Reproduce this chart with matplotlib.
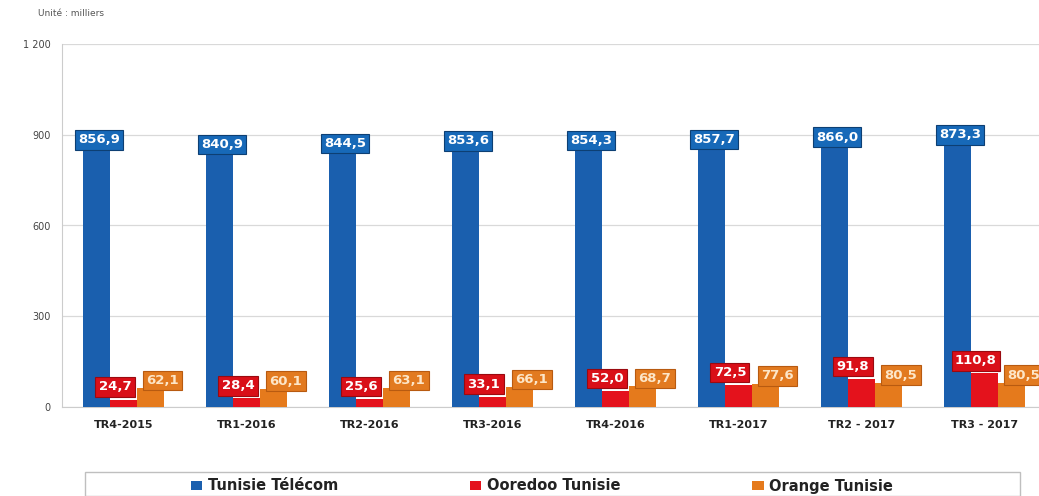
import matplotlib
matplotlib.use("Agg")
import matplotlib.pyplot as plt
import numpy as np
from matplotlib.patches import Rectangle

categories = ["TR4-2015", "TR1-2016", "TR2-2016", "TR3-2016", "TR4-2016",
              "TR1-2017", "TR2 - 2017", "TR3 - 2017"]
tunisie_telecom = [856.9, 840.9, 844.5, 853.6, 854.3, 857.7, 866.0, 873.3]
ooredoo = [24.7, 28.4, 25.6, 33.1, 52.0, 72.5, 91.8, 110.8]
orange = [62.1, 60.1, 63.1, 66.1, 68.7, 77.6, 80.5, 80.5]
series_names = ["Tunisie Télécom", "Ooredoo Tunisie", "Orange Tunisie"]
yticks = [0, 300, 600, 900, 1200]
ytick_labels = ["0", "300", "600", "900", "1 200"]

c_blue = "#1a5fae"
c_red = "#e4121c"
c_orange = "#e57a1c"
c_blue_lbl = "#1769b8"
c_red_lbl = "#d90f18"
c_orange_lbl = "#e27a20"

W, H = 1039, 496
fig = plt.figure(figsize=(W / 100, H / 100), dpi=100)
ax = fig.add_axes([62 / W, 89 / H, 984 / W, 363 / H])

x = np.arange(len(categories))
bw = 0.215
off = 0.22
ax.bar(x - off, tunisie_telecom, bw, color=c_blue, zorder=3, label=series_names[0])
ax.bar(x, ooredoo, bw, color=c_red, zorder=3, label=series_names[1])
ax.bar(x + off, orange, bw, color=c_orange, zorder=3, label=series_names[2])

def fmt(v):
    return f"{v:.1f}".replace(".", ",")

for i in range(len(categories)):
    ax.text(x[i] - off + 0.02, tunisie_telecom[i] + 5, fmt(tunisie_telecom[i]),
            ha="center", va="bottom", color="white", fontsize=9.5, fontweight="bold",
            zorder=5,
            bbox=dict(boxstyle="square,pad=0.25", fc=c_blue_lbl, ec="#0d3f73", lw=0.8))
    ax.text(x[i] - 0.07, ooredoo[i] + 42, fmt(ooredoo[i]),
            ha="center", va="center", color="white", fontsize=9.5, fontweight="bold",
            zorder=5,
            bbox=dict(boxstyle="square,pad=0.25", fc=c_red_lbl, ec="#9a0a10", lw=0.8))
    ax.text(x[i] + off + 0.1, orange[i] + 25, fmt(orange[i]),
            ha="center", va="center", color="#fde6c8", fontsize=9.5, fontweight="bold",
            zorder=6,
            bbox=dict(boxstyle="square,pad=0.25", fc=c_orange_lbl, ec="#b85a10", lw=0.8))

ax.set_xlim(-0.5, len(categories) - 0.5)
ax.set_ylim(0, 1200)
ax.set_yticks(yticks)
ax.set_yticklabels(ytick_labels, fontsize=7, color="#444444")
ax.set_xticks(x)
ax.set_xticklabels(categories, fontsize=8, fontweight="bold", color="#222222")
ax.tick_params(axis="both", length=0, pad=8)
ax.tick_params(axis="x", pad=9)
ax.grid(axis="y", color="#d9d9d9", lw=0.9, zorder=0)
for s in ["top", "right"]:
    ax.spines[s].set_visible(False)
ax.spines["left"].set_color("#cccccc")
ax.spines["bottom"].set_color("#cccccc")

fig.text(38 / W, 1 - 14 / H, "Unité : milliers", fontsize=6.5, color="#555555",
         va="center", ha="left")

leg = fig.legend(loc="center", bbox_to_anchor=(542 / W, 1 - 486 / H), ncol=3,
                 frameon=False, prop=dict(size=10.5, weight="bold"),
                 handlelength=0.8, handleheight=0.6, handletextpad=0.4,
                 columnspacing=9.0)
for t in leg.get_texts():
    t.set_color("#222222")
fig.patches.append(Rectangle((85 / W, 0.0), 935 / W, 24 / H, transform=fig.transFigure,
                             fill=False, ec="#bfbfbf", lw=1.0))

fig.savefig("out.png", dpi=100, facecolor="white")
